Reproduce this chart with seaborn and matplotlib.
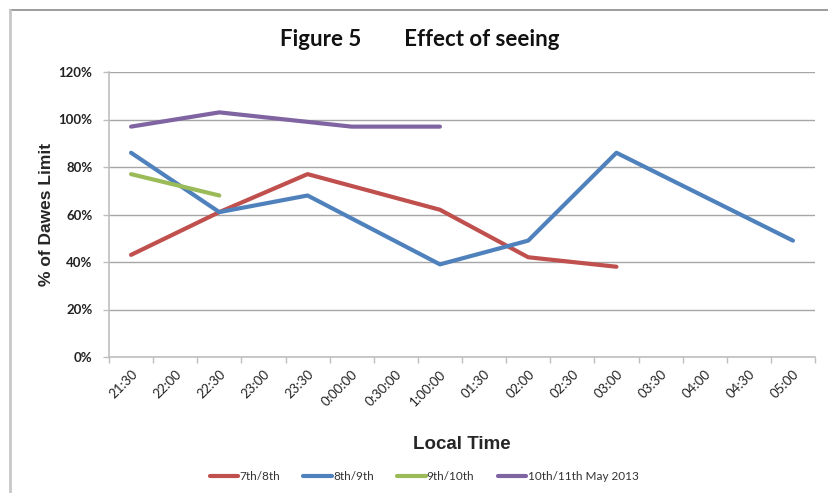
import matplotlib
matplotlib.use("Agg")
import matplotlib.pyplot as plt
from matplotlib.lines import Line2D
import seaborn as sns
import pandas as pd

# Category axis (local time)
times = ["21:30", "22:00", "22:30", "23:00", "23:30", "0:00:00", "0:30:00",
         "1:00:00", "01:30", "02:00", "02:30", "03:00", "03:30", "04:00",
         "04:30", "05:00"]

# Observing nights: times observed and % of Dawes limit achieved
night_7_8_times = ["21:30", "22:30", "23:30", "1:00:00", "02:00", "03:00"]
night_7_8 = [43, 61, 77, 62, 42, 38]

night_8_9_times = ["21:30", "22:30", "23:30", "1:00:00", "02:00", "03:00", "05:00"]
night_8_9 = [86, 61, 68, 39, 49, 86, 49]

night_9_10_times = ["21:30", "22:30"]
night_9_10 = [77, 68]

night_10_11_times = ["21:30", "22:30", "23:30", "0:00:00", "1:00:00"]
night_10_11 = [97, 103, 99, 97, 97]

series_names = ["7th/8th", "8th/9th", "9th/10th", "10th/11th May 2013"]
series_colors = ["#C0504D", "#4F81BD", "#9BBB59", "#8064A2"]
y_ticks = [0, 20, 40, 60, 80, 100, 120]

rows = []
for name, ts, vals in zip(series_names,
                          [night_7_8_times, night_8_9_times, night_9_10_times, night_10_11_times],
                          [night_7_8, night_8_9, night_9_10, night_10_11]):
    for t, v in zip(ts, vals):
        rows.append({"pos": times.index(t), "value": v, "night": name})
df = pd.DataFrame(rows)

sns.set_theme(style="white")
plt.rcParams["font.family"] = ["Lato", "DejaVu Sans"]

fig = plt.figure(figsize=(8.29, 4.93), dpi=100)
ax = fig.add_axes([109 / 829, 1 - 357 / 493, (815 - 109) / 829, (357 - 72) / 493])

sns.lineplot(data=df, x="pos", y="value", hue="night", hue_order=series_names,
             palette=series_colors, linewidth=3.0, sort=False, ax=ax,
             legend=False, solid_capstyle="round", solid_joinstyle="round")

ax.set_xlim(-0.5, len(times) - 0.5)
ax.set_ylim(0, 120)
ax.set_yticks(y_ticks)
ax.set_yticklabels([f"{v}%" for v in y_ticks], fontsize=9.5, fontweight="bold",
                   color="#222222")
ax.yaxis.grid(True, color="#a6a6a6", linewidth=1.0)
ax.xaxis.grid(False)
ax.set_axisbelow(True)

ax.set_xticks(range(len(times)))
ax.set_xticklabels(times, rotation=45, ha="right", rotation_mode="anchor",
                   fontsize=9.5, color="#222222")
ax.set_xticks([i - 0.5 for i in range(len(times) + 1)], minor=True)
ax.tick_params(axis="x", which="major", length=0, pad=8)
ax.tick_params(axis="x", which="minor", length=4, width=1, color="#bfbfbf",
               direction="out", bottom=True)
ax.tick_params(axis="y", length=4, width=1, color="#bfbfbf", direction="out",
               left=True, pad=8)

for side in ["top", "right"]:
    ax.spines[side].set_visible(False)
for side in ["left", "bottom"]:
    ax.spines[side].set_color("#bfbfbf")
    ax.spines[side].set_linewidth(1.2)

ax.set_xlabel("Local Time", fontsize=13.5, fontweight="bold",
              family=["Liberation Sans", "DejaVu Sans"], labelpad=20)
ax.set_ylabel("% of Dawes Limit", fontsize=12.5, fontweight="bold",
              family=["Liberation Sans", "DejaVu Sans"], labelpad=3)

fig.text(420 / 829, 1 - 40 / 493, "Figure 5        Effect of seeing",
         ha="center", va="center", fontsize=16, fontweight="bold",
         color="#111111")

handles = [Line2D([0], [0], color=c, linewidth=3.0, solid_capstyle="round")
           for c in series_colors]
fig.legend(handles, series_names, loc="center", ncol=4,
           bbox_to_anchor=(424 / 829, 1 - 477 / 493), frameon=False,
           fontsize=8.5, handlelength=2.4, handletextpad=0.1, columnspacing=2.0,
           labelcolor="#333333")

# Chart-area border (top and left edges)
fig.add_artist(Line2D([10 / 829, 1.0], [1 - 10 / 493, 1 - 10 / 493],
                      transform=fig.transFigure, color="#8c8c8c", linewidth=1.2))
fig.add_artist(Line2D([10 / 829, 10 / 829], [1 - 10 / 493, 0.0],
                      transform=fig.transFigure, color="#c8c8c8", linewidth=2.0))

fig.savefig("out.png", dpi=100)
